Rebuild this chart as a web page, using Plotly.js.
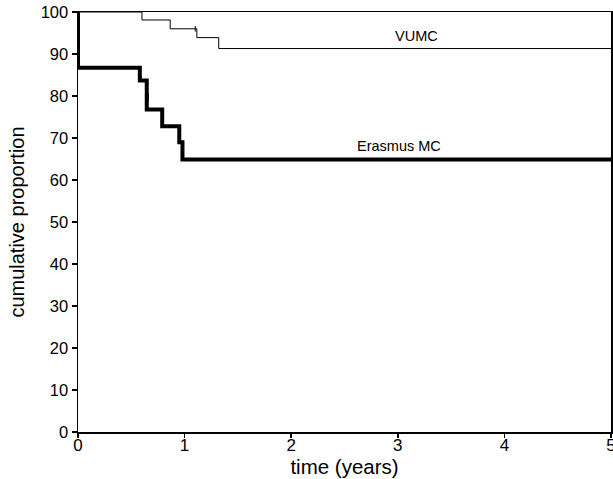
<!DOCTYPE html>
<html>
<head>
<meta charset="utf-8">
<script src="https://cdn.plot.ly/plotly-3.0.1.min.js"></script>
<style>html,body{margin:0;padding:0;background:#fff;}#chart{width:613px;height:479px;}</style>
</head>
<body>
<div id="chart"></div>
<script>
// Kaplan-Meier step data
const vumcTime = [0, 0.60, 0.865, 1.115, 1.32, 5];
const vumcSurv = [100, 98.1, 96.0, 93.9, 91.3, 91.3];
const vumcCensorTime = [1.10];
const vumcCensorSurv = [96.0];

const erasmusTime = [0, 0, 0.58, 0.645, 0.79, 0.95, 0.98, 5];
const erasmusSurv = [100, 86.7, 83.7, 76.8, 72.8, 69.0, 64.9, 64.9];
const erasmusCensorTime = [0.655];
const erasmusCensorSurv = [79.8];

const groupLabels = ["VUMC", "Erasmus MC"];
const labelX = [3.18, 3.01];
const labelY = [94.2, 68.0];

const xTicks = [0, 1, 2, 3, 4, 5];
const yTicks = [0, 10, 20, 30, 40, 50, 60, 70, 80, 90, 100];

const font = "Liberation Sans, Arial, sans-serif";

const traces = [
  {x: vumcTime, y: vumcSurv, mode: "lines", line: {shape: "hv", color: "#000", width: 1}, hoverinfo: "skip"},
  {x: vumcCensorTime, y: vumcCensorSurv, mode: "markers", marker: {symbol: "line-ns", size: 4, line: {color: "#000", width: 1}}, hoverinfo: "skip"},
  {x: erasmusTime, y: erasmusSurv, mode: "lines", line: {shape: "hv", color: "#000", width: 4}, hoverinfo: "skip"},
  {x: erasmusCensorTime, y: erasmusCensorSurv, mode: "markers", marker: {symbol: "line-ns", size: 5, line: {color: "#000", width: 2}}, hoverinfo: "skip"}
];

const annotations = groupLabels.map((t, i) => ({
  x: labelX[i], y: labelY[i], xref: "x", yref: "y", text: t, showarrow: false,
  font: {family: font, size: 14.5, color: "#000"}
}));

const layout = {
  width: 613, height: 479,
  margin: {l: 78, r: 2, t: 12, b: 47},
  paper_bgcolor: "#fff", plot_bgcolor: "#fff",
  showlegend: false,
  font: {family: font, color: "#000"},
  xaxis: {
    range: [0, 5], tickvals: xTicks, ticktext: xTicks.map(String),
    showgrid: false, zeroline: false, showline: true, mirror: true,
    linecolor: "#000", linewidth: 1.5, ticks: "outside", ticklen: 4, tickwidth: 1.5, tickcolor: "#000",
    tickfont: {family: font, size: 17, color: "#000"},
    ticklabeloverflow: "allow", ticklabelstandoff: -7,
    title: {text: "time (years)", font: {family: font, size: 20.5, color: "#000"}, standoff: 4}
  },
  yaxis: {
    range: [0, 100], tickvals: yTicks, ticktext: yTicks.map(String),
    showgrid: false, zeroline: false, showline: true, mirror: true,
    linecolor: "#000", linewidth: 1.5, ticks: "outside", ticklen: 5, tickwidth: 1.5, tickcolor: "#000",
    tickfont: {family: font, size: 16.5, color: "#000"},
    ticklabeloverflow: "allow",
    title: {text: "cumulative proportion", font: {family: font, size: 20, color: "#000"}, standoff: 10}
  },
  annotations: annotations
};

Plotly.newPlot("chart", traces, layout, {staticPlot: true, displayModeBar: false});
</script>
</body>
</html>
